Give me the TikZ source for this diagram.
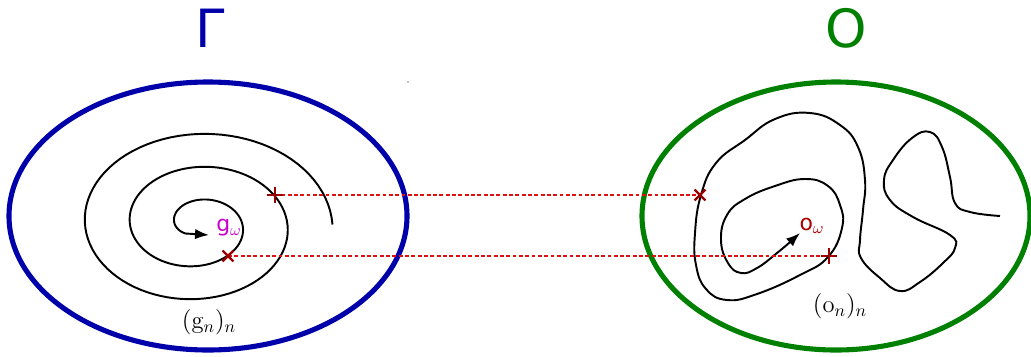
\documentclass[tikz,border=0pt]{standalone}
\usepackage{fontspec}
\newfontfamily\sansfnt{DejaVu Sans}
\usetikzlibrary{arrows.meta,shapes.misc}
\definecolor{cGam}{HTML}{0000AA}
\definecolor{cObs}{HTML}{008000}
\definecolor{cLink}{HTML}{DD1111}
\definecolor{cHit}{HTML}{990000}
\definecolor{cLimG}{HTML}{CC00CC}
\definecolor{cLimO}{HTML}{AA0000}

\begin{document}
\begin{tikzpicture}[
  x=0.02cm, y=-0.02cm,
  >=Latex,
  setring/.style={line width=2.9pt},
  orbit/.style={line width=1.1pt, black},
  link/.style={cLink, line width=0.9pt, dash pattern=on 2.2pt off 1.4pt},
  hitx/.style={cross out, draw=cHit, line width=1.3pt, inner sep=0pt,
    minimum size=0.17cm},
  hitplus/.style={hitx, rotate=45},
  setname/.style={font=\sansfnt\fontsize{30}{32}\selectfont, inner sep=0pt},
  limlabel/.style={font=\sansfnt\fontsize{12.5}{14}\selectfont, inner sep=0pt},
  seqlabel/.style={font=\fontsize{14}{16}\selectfont, inner sep=0pt},
]
\useasboundingbox (0,0) rectangle (1031,356);

% --- the two sets ---
\draw[setring, cGam] (208,216) ellipse [x radius=199, y radius=134];
\draw[setring, cObs] (836,216) ellipse [x radius=194, y radius=134];
\node[setname, text=cGam] (gamname) at (210,28) {Γ};
\node[setname, text=cObs] (obsname) at (846,28) {O};
\fill (408,82) circle [radius=0.6];

% --- orbit in Gamma: spiral onto g_omega ---
\coordinate (gtip) at (209,235);
\draw[orbit, <-] (gtip) -- plot[domain=0.75*pi:6*pi, samples=240, variable=\t]
  ({197.5+45*\t/(2*pi)*cos(\t r)}, {224.75+33*\t/(2*pi)*sin(\t r)});
\node[limlabel, text=cLimG] (glim) at (229,228) {g$_{\omega}$};
\node[seqlabel] (gseq) at (209,322) {$(\mathrm{g}_n)_n$};

% --- orbit in O ---
\draw[orbit, <-] plot[smooth, tension=0.75] coordinates {
  (800,233) (777,253) (757,268) (741,273) (728,263) (721,240) (727,215)
  (745,199) (775,186) (805,179) (828,186) (840,205) (842,228)
  (828,257) (800,275) (757,294) (727,300) (706,289) (696,265)
  (695,233) (701,195) (716,163) (745,140) (775,119) (810,113)
  (840,125) (858,147) (865,180) (863,210) (860,240) (861,258)
  (880,278) (900,291) (920,282) (943,263) (955,248) (950,235)
  (913,217) (890,200) (884,180) (893,160) (912,138)
  (930,132) (942,147) (950,177) (955,203) (970,212) (1000,216)};
\node[limlabel, text=cLimO] (olim) at (812,226) {o$_{\omega}$};
\node[seqlabel] (oseq) at (840,306) {$(\mathrm{o}_n)_n$};

% --- correspondence between the two orbits ---
\coordinate (gA) at (275,195);
\coordinate (gB) at (228,256);
\coordinate (oA) at (700,195);
\coordinate (oB) at (829,256);
\draw[link] (gA) -- (oA);
\draw[link] (gB) -- (oB);
\node[hitplus] (hitgA) at (gA) {};
\node[hitx] (hitgB) at (gB) {};
\node[hitx] (hitoA) at (oA) {};
\node[hitplus] (hitoB) at (oB) {};

\end{tikzpicture}
\end{document}
